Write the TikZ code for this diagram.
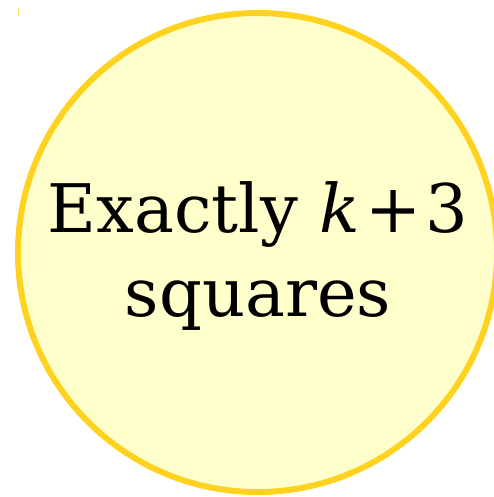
\documentclass[tikz,border=0pt]{standalone}
\usepackage{fontspec}
\setmainfont{DejaVu Serif}
\definecolor{ringgold}{HTML}{FFD21F}
\definecolor{paleyellow}{HTML}{FFFFCC}
\tikzset{
  bubble/.style={circle, draw=ringgold, fill=paleyellow, line width=6pt, minimum size=479pt, inner sep=0pt},
  bubbletext/.style={align=center, font=\fontsize{67pt}{84pt}\selectfont, text=black}
}
\begin{document}
\begin{tikzpicture}[x=1pt,y=1pt]
\useasboundingbox (0,0) rectangle (494,-497);
\node[bubble] (c) at (257.5,-252.5) {};
\node[bubbletext] (t) at (258,-256) {Exactly \textit{k}\kern0.08em+\kern0.06em3\\squares};
\coordinate (m1) at (18.5,-8);
\coordinate (m2) at (18.5,-16);
\draw[ringgold!60, line width=1pt] (m1) -- (m2);
\end{tikzpicture}
\end{document}
